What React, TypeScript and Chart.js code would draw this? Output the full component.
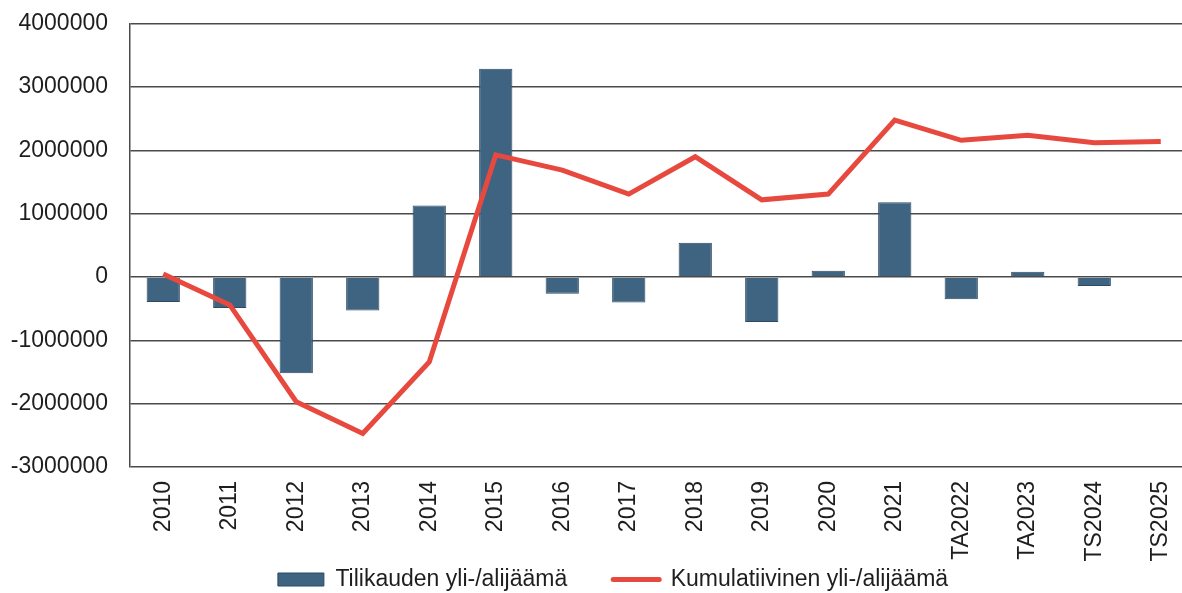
import React, { useEffect, useRef } from "react";
import { Chart, registerables } from "chart.js";

Chart.register(...registerables);

const categories = ["2010", "2011", "2012", "2013", "2014", "2015", "2016", "2017", "2018", "2019", "2020", "2021", "TA2022", "TA2023", "TS2024", "TS2025"];
const annualResult = [-395000, -490000, -1520000, -530000, 1130000, 3290000, -265000, -400000, 540000, -710000, 100000, 1180000, -350000, 85000, -140000, -10000];
const cumulativeResult = [50000, -440000, -1970000, -2470000, -1340000, 1930000, 1690000, 1310000, 1900000, 1220000, 1310000, 2480000, 2160000, 2240000, 2120000, 2140000];
const barLabel = "Tilikauden yli-/alijäämä";
const lineLabel = "Kumulatiivinen yli-/alijäämä";
const yMin = -3000000;
const yMax = 4000000;
const yStep = 1000000;

const BAR_COLOR = "#3e6482";
const BAR_BORDER = "#2f4a60";
const LINE_COLOR = "#e8493f";
const GRID_COLOR = "#4a4a4a";
const TEXT_COLOR = "#1e1e1e";
const FONT = { family: "'Liberation Sans', Arial, sans-serif", size: 23 };

// moves the legend box after layout so it sits where the reference shows it
const legendPlacer = {
  id: "legendPlacer",
  afterLayout(chart: any) {
    const l = chart.legend;
    if (!l) return;
    const dx = 16;
    const dy = 522 - l.top;
    l.left += dx;
    l.right += dx;
    l.top += dy;
    l.bottom += dy;
  },
};

export default function App() {
  const ref = useRef<HTMLCanvasElement | null>(null);

  useEffect(() => {
    document.body.style.margin = "0";
    const canvas = ref.current;
    if (!canvas) return;
    const chart = new Chart(canvas, {
      type: "bar",
      data: {
        labels: categories,
        datasets: [
          {
            type: "bar",
            label: barLabel,
            data: annualResult,
            backgroundColor: BAR_COLOR,
            borderColor: BAR_BORDER,
            borderWidth: 1,
            categoryPercentage: 1,
            barPercentage: 0.5,
            order: 1,
          },
          {
            type: "line",
            label: lineLabel,
            data: cumulativeResult,
            borderColor: LINE_COLOR,
            backgroundColor: LINE_COLOR,
            borderWidth: 5,
            pointRadius: 0,
            tension: 0,
            fill: false,
            order: 0,
          },
        ],
      },
      plugins: [legendPlacer],
      options: {
        responsive: false,
        animation: false,
        devicePixelRatio: 1,
        layout: { padding: { left: 0, right: 10, top: 0, bottom: 0 } },
        plugins: {
          tooltip: { enabled: false },
          legend: {
            position: "bottom",
            labels: {
              color: TEXT_COLOR,
              font: FONT,
              usePointStyle: true,
              pointStyleWidth: 46,
              boxHeight: 13,
              padding: 46,
              generateLabels: () => [
                {
                  text: barLabel,
                  fillStyle: BAR_COLOR,
                  strokeStyle: BAR_BORDER,
                  lineWidth: 1,
                  pointStyle: "rect",
                  datasetIndex: 0,
                  fontColor: TEXT_COLOR,
                } as any,
                {
                  text: lineLabel,
                  fillStyle: LINE_COLOR,
                  strokeStyle: LINE_COLOR,
                  lineWidth: 5,
                  lineCap: "round",
                  pointStyle: "line",
                  datasetIndex: 1,
                  fontColor: TEXT_COLOR,
                } as any,
              ],
            },
          },
        },
        scales: {
          x: {
            grid: { display: false, drawTicks: false },
            border: { display: false },
            ticks: {
              color: TEXT_COLOR,
              font: FONT,
              minRotation: 90,
              maxRotation: 90,
              autoSkip: false,
              padding: 14,
            },
            afterFit: (scale: any) => {
              scale.height = 100;
            },
          },
          y: {
            min: yMin,
            max: yMax,
            grid: {
              color: GRID_COLOR,
              lineWidth: 1.5,
              drawTicks: true,
              tickLength: 12,
              tickColor: "rgba(0,0,0,0)",
            },
            border: { display: true, color: GRID_COLOR, width: 1.5 },
            ticks: {
              stepSize: yStep,
              color: TEXT_COLOR,
              font: FONT,
              padding: 10,
              callback: (v: any) => String(v),
            },
            afterFit: (scale: any) => {
              scale.width = 130;
            },
          },
        },
      },
    });
    return () => chart.destroy();
  }, []);

  return (
    <div style={{ position: "absolute", left: 0, top: 0, width: 1182, height: 593, overflow: "hidden", background: "#fff" }}>
      <canvas ref={ref} width={1204} height={646} style={{ display: "block" }} />
    </div>
  );
}
